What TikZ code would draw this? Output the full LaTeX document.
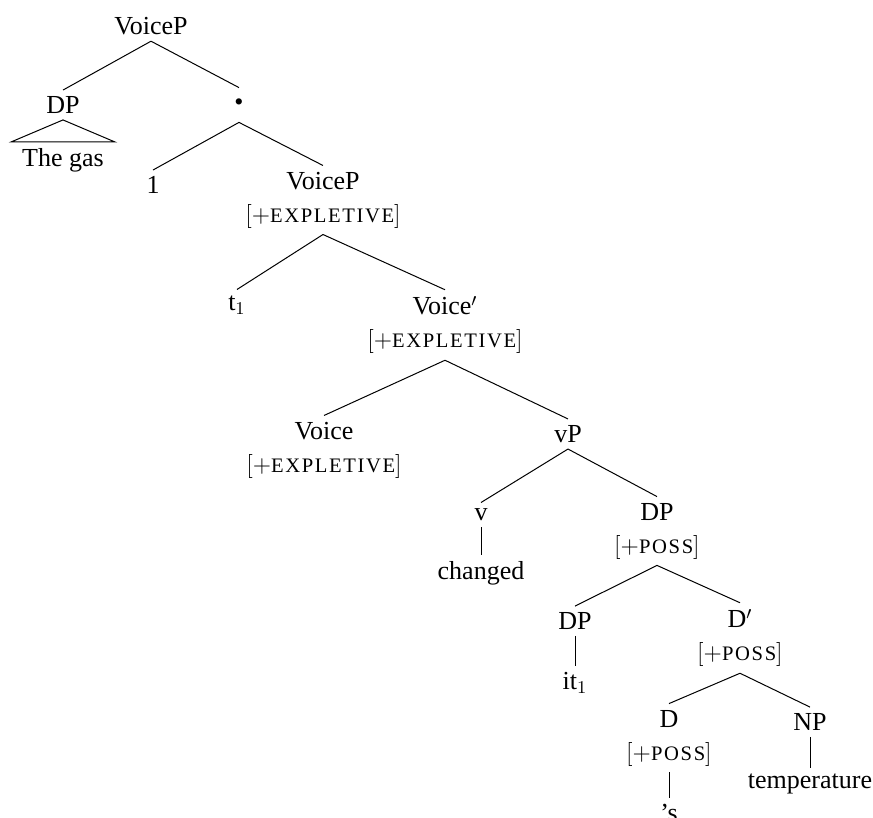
\documentclass[tikz,border=0pt]{standalone}
\usepackage{fontspec}
\setmainfont{Liberation Serif}
\newfontfamily\featfont[LetterSpace = 8]{Liberation Serif}

\newcommand{\feat}[1]{$[+${\featfont\fontsize{10.3}{10}\selectfont #1}$]$} % признак в скобках

\tikzset{
    lbl/.style = {inner sep = 3pt, align = center, font = \fontsize{13}{16.5}\selectfont},
    branch/.style = {line width = 0.5pt}
}

\begin{document}
\begin{tikzpicture}[x = 0.5pt, y = -0.5pt]
        \useasboundingbox (0, 0) rectangle (873, 818); % Поле картинки

        % Узлы
        \node [lbl] (root) at (151, 26) {VoiceP};
        \node [lbl] (dpa) at (63, 105) {DP};
        \node [lbl] (gas) at (63, 160) {The gas};
        \node [lbl, minimum height = 17pt] (bul) at (239, 105) {\textbullet};
        \node [lbl] (one) at (153, 185) {1};
        \node [lbl] (vpb) at (323, 200) {VoiceP\\\feat{EXPLETIVE}};
        \node [lbl] (tr) at (237, 305) {t$_1$};
        \node [lbl] (vbar) at (445, 325) {Voice$'$\\\feat{EXPLETIVE}};
        \node [lbl] (voice) at (324, 450) {Voice\\\feat{EXPLETIVE}};
        \node [lbl] (vp) at (568, 434) {vP};
        \node [lbl] (v) at (481, 515) {v};
        \node [lbl] (chg) at (481, 573) {changed};
        \node [lbl] (dpb) at (657, 531) {DP\\\feat{POSS}};
        \node [lbl] (dpc) at (575, 621) {DP};
        \node [lbl] (it) at (575, 683) {it$_1$};
        \node [lbl] (dbar) at (740, 638) {D$'$\\\feat{POSS}};
        \node [lbl] (d) at (669, 738) {D\\\feat{POSS}};
        \node [lbl] (poss) at (669, 813) {'s};
        \node [lbl] (np) at (810, 722) {NP};
        \node [lbl] (temp) at (810, 784) {temperature};

        % Треугольник
        \coordinate (gasl) at (11, 142);
        \coordinate (gasr) at (115, 142);
        \draw [branch] (dpa.south) -- (gasl) -- (gasr) -- cycle;

        % Ветви
        \foreach \a/\b in {root/dpa, root/bul, bul/one, bul/vpb, vpb/tr, vpb/vbar,
                vbar/voice, vbar/vp, vp/v, vp/dpb, dpb/dpc, dpb/dbar, dbar/d, dbar/np,
                v/chg, dpc/it, d/poss, np/temp}
            \draw [branch] (\a.south) -- (\b.north);
    \end{tikzpicture}
\end{document}
